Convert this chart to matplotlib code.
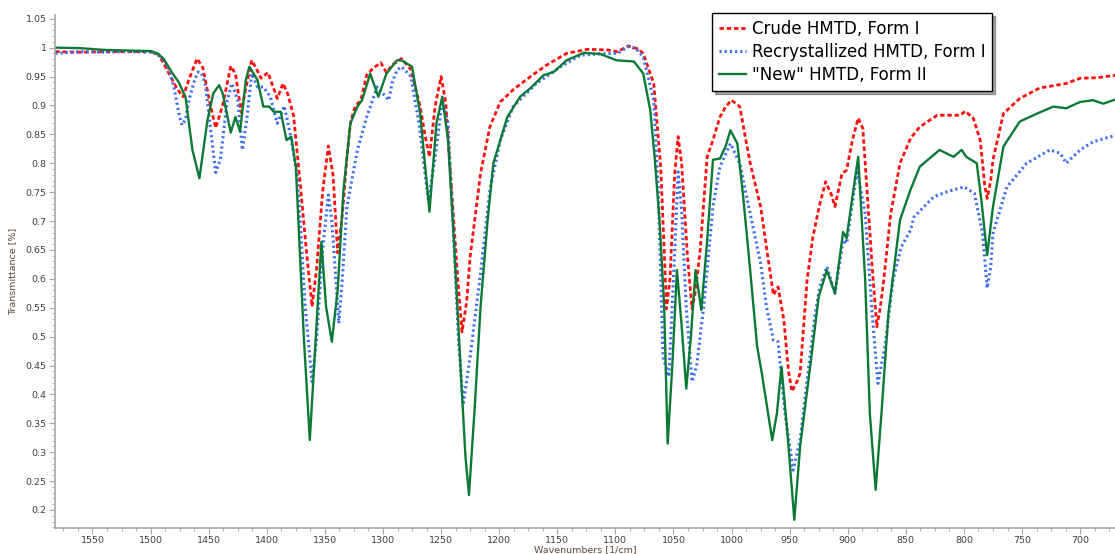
import matplotlib.pyplot as plt
from matplotlib.ticker import MultipleLocator, AutoMinorLocator

# Crude HMTD, Form I
crude_wn = [1582, 1560, 1540, 1520, 1500, 1493, 1486, 1477, 1472, 1467, 1460, 1455, 1449, 1444, 1438,
            1431, 1427, 1422, 1418, 1413, 1408, 1405, 1399, 1391, 1386, 1382, 1377, 1371, 1366, 1361,
            1357, 1352, 1347, 1343, 1339, 1335, 1331, 1328, 1324, 1319, 1314, 1308, 1302, 1297, 1292,
            1284, 1276, 1268, 1264, 1260, 1255, 1250, 1246, 1242, 1236, 1232, 1228, 1225, 1216, 1208,
            1199, 1188, 1173, 1159, 1142, 1124, 1107, 1098, 1089, 1081, 1076, 1067, 1061, 1058, 1056,
            1053, 1049, 1046, 1043, 1038, 1034, 1031, 1027, 1021, 1016, 1010, 1005, 1000, 993, 984,
            975, 970, 964, 960, 955, 951, 948, 943, 941, 935, 930, 924, 919, 914, 911, 905, 901, 896,
            891, 887, 884, 879, 875, 872, 869, 863, 855, 846, 838, 823, 803, 799, 792, 786, 782, 780,
            777, 775, 766, 752, 735, 712, 700, 685, 670]
crude_t = [0.993, 0.992, 0.993, 0.993, 0.993, 0.988, 0.962, 0.928, 0.915, 0.945, 0.981, 0.965, 0.905,
           0.861, 0.900, 0.968, 0.955, 0.888, 0.930, 0.978, 0.960, 0.947, 0.957, 0.912, 0.938, 0.920,
           0.883, 0.760, 0.650, 0.552, 0.620, 0.750, 0.830, 0.780, 0.645, 0.710, 0.811, 0.870, 0.898,
           0.909, 0.953, 0.965, 0.974, 0.957, 0.970, 0.981, 0.962, 0.898, 0.850, 0.811, 0.900, 0.950,
           0.905, 0.783, 0.610, 0.508, 0.560, 0.638, 0.783, 0.863, 0.906, 0.927, 0.950, 0.970, 0.990,
           0.997, 0.996, 0.993, 1.003, 0.998, 0.990, 0.938, 0.794, 0.650, 0.548, 0.600, 0.780, 0.846,
           0.800, 0.640, 0.548, 0.580, 0.650, 0.811, 0.840, 0.880, 0.898, 0.909, 0.898, 0.800, 0.725,
           0.655, 0.572, 0.586, 0.529, 0.440, 0.405, 0.425, 0.437, 0.598, 0.673, 0.730, 0.768, 0.745,
           0.725, 0.782, 0.788, 0.840, 0.878, 0.860, 0.771, 0.621, 0.517, 0.550, 0.598, 0.713, 0.800,
           0.843, 0.863, 0.883, 0.883, 0.890, 0.878, 0.840, 0.760, 0.739, 0.770, 0.806, 0.886, 0.912,
           0.930, 0.938, 0.947, 0.948, 0.952]

# Recrystallized HMTD, Form I
recr_wn = [1582, 1560, 1540, 1520, 1500, 1494, 1489, 1484, 1480, 1475, 1473, 1470, 1467, 1462, 1459,
           1456, 1453, 1448, 1444, 1440, 1434, 1430, 1425, 1421, 1417, 1413, 1408, 1403, 1397, 1391,
           1385, 1380, 1378, 1374, 1372, 1367, 1361, 1357, 1352, 1347, 1344, 1338, 1335, 1331, 1322,
           1314, 1305, 1295, 1292, 1288, 1284, 1276, 1269, 1261, 1255, 1249, 1244, 1239, 1235, 1231,
           1225, 1216, 1208, 1199, 1188, 1168, 1147, 1130, 1107, 1098, 1089, 1082, 1076, 1067, 1063,
           1059, 1054, 1050, 1046, 1043, 1039, 1034, 1030, 1024, 1016, 1010, 1001, 993, 984, 975, 970,
           964, 960, 954, 947, 941, 935, 928, 924, 918, 911, 904, 901, 892, 885, 879, 874, 868, 861,
           854, 846, 843, 826, 814, 800, 791, 784, 780, 777, 775, 763, 746, 726, 717, 712, 700, 689, 670]
recr_t = [0.990, 0.993, 0.992, 0.993, 0.992, 0.988, 0.978, 0.962, 0.932, 0.880, 0.866, 0.875, 0.909,
          0.945, 0.958, 0.955, 0.938, 0.852, 0.784, 0.806, 0.909, 0.938, 0.909, 0.823, 0.880, 0.955,
          0.932, 0.932, 0.915, 0.869, 0.899, 0.852, 0.829, 0.780, 0.725, 0.552, 0.422, 0.500, 0.650,
          0.745, 0.700, 0.523, 0.600, 0.725, 0.823, 0.880, 0.932, 0.909, 0.940, 0.961, 0.967, 0.950,
          0.869, 0.736, 0.811, 0.909, 0.869, 0.667, 0.494, 0.382, 0.465, 0.610, 0.754, 0.840, 0.898,
          0.938, 0.967, 0.987, 0.990, 0.990, 1.002, 0.998, 0.984, 0.909, 0.750, 0.465, 0.431, 0.600,
          0.785, 0.720, 0.550, 0.422, 0.450, 0.552, 0.725, 0.794, 0.834, 0.800, 0.713, 0.627, 0.552,
          0.494, 0.491, 0.367, 0.269, 0.321, 0.425, 0.540, 0.586, 0.621, 0.575, 0.667, 0.661, 0.788,
          0.713, 0.540, 0.419, 0.483, 0.598, 0.655, 0.684, 0.707, 0.742, 0.751, 0.759, 0.748, 0.679,
          0.584, 0.620, 0.679, 0.759, 0.800, 0.823, 0.817, 0.800, 0.823, 0.837, 0.848]

# "New" HMTD, Form II
new_wn = [1582, 1560, 1540, 1520, 1500, 1494, 1489, 1481, 1476, 1470, 1464, 1458, 1451, 1446, 1441,
          1438, 1431, 1427, 1423, 1418, 1415, 1408, 1403, 1398, 1394, 1388, 1383, 1379, 1375, 1372,
          1368, 1363, 1358, 1353, 1349, 1344, 1339, 1334, 1328, 1322, 1318, 1311, 1304, 1297, 1288,
          1284, 1275, 1268, 1260, 1254, 1249, 1244, 1239, 1233, 1229, 1226, 1221, 1216, 1210, 1205,
          1199, 1193, 1182, 1173, 1162, 1153, 1142, 1127, 1113, 1099, 1084, 1076, 1070, 1066, 1062,
          1058, 1055, 1051, 1047, 1043, 1039, 1035, 1031, 1026, 1021, 1016, 1010, 1005, 1001, 995,
          990, 984, 978, 974, 965, 961, 957, 951, 946, 941, 932, 925, 918, 911, 904, 901, 896, 891,
          885, 881, 876, 871, 865, 855, 846, 838, 821, 809, 802, 798, 789, 785, 780, 775, 766, 752,
          737, 723, 712, 700, 689, 680, 670]
new_t = [1.000, 0.999, 0.996, 0.995, 0.994, 0.990, 0.981, 0.955, 0.941, 0.915, 0.823, 0.774, 0.875,
         0.921, 0.935, 0.921, 0.853, 0.880, 0.855, 0.944, 0.967, 0.944, 0.898, 0.898, 0.889, 0.889,
         0.840, 0.846, 0.794, 0.667, 0.494, 0.321, 0.494, 0.664, 0.552, 0.491, 0.581, 0.754, 0.869,
         0.898, 0.909, 0.955, 0.915, 0.955, 0.978, 0.978, 0.967, 0.886, 0.716, 0.869, 0.915, 0.840,
         0.667, 0.437, 0.292, 0.226, 0.379, 0.552, 0.700, 0.800, 0.840, 0.880, 0.915, 0.930, 0.952,
         0.958, 0.978, 0.991, 0.989, 0.978, 0.976, 0.955, 0.892, 0.806, 0.700, 0.552, 0.315, 0.450,
         0.615, 0.520, 0.410, 0.500, 0.615, 0.546, 0.667, 0.806, 0.808, 0.830, 0.857, 0.834, 0.742,
         0.615, 0.483, 0.437, 0.321, 0.367, 0.448, 0.310, 0.183, 0.310, 0.454, 0.569, 0.615, 0.575,
         0.681, 0.670, 0.742, 0.811, 0.598, 0.367, 0.235, 0.367, 0.540, 0.702, 0.754, 0.794, 0.823,
         0.811, 0.823, 0.811, 0.800, 0.736, 0.641, 0.725, 0.829, 0.872, 0.886, 0.898, 0.895, 0.906,
         0.909, 0.903, 0.910]

labels = ["Crude HMTD, Form I", "Recrystallized HMTD, Form I", "\"New\" HMTD, Form II"]

fig = plt.figure(figsize=(11.15, 5.54), dpi=100)
ax = fig.add_axes([0.0493, 0.0475, 0.9507, 0.9254])

ax.plot(crude_wn, crude_t, color="#ff1010", linewidth=2, linestyle=(0, (1.6, 1.0)), label=labels[0])
ax.plot(recr_wn, recr_t, color="#3c6cf0", linewidth=2.2, linestyle=(0, (0.7, 1.0)), label=labels[1])
ax.plot(new_wn, new_t, color="#0c7a36", linewidth=1.7, label=labels[2])

ax.set_xlim(1582.3, 670)
ax.set_ylim(0.1694, 1.0564)

ax.xaxis.set_major_locator(MultipleLocator(50))
ax.xaxis.set_minor_locator(AutoMinorLocator(4))
ax.yaxis.set_major_locator(MultipleLocator(0.05))
ax.yaxis.set_minor_locator(AutoMinorLocator(5))
ax.yaxis.set_major_formatter(plt.FuncFormatter(lambda v, p: f"{v:.2f}".rstrip("0").rstrip(".")))

for side in ["top", "right"]:
    ax.spines[side].set_visible(False)
for side in ["left", "bottom"]:
    ax.spines[side].set_color("#a8a8a8")
    ax.spines[side].set_linewidth(1.2)

ax.tick_params(which="major", direction="out", length=4, color="#a8a8a8", labelsize=6.8,
               labelcolor="#404040", pad=2)
ax.tick_params(which="minor", direction="out", length=2, color="#a8a8a8")

ax.set_xlabel("Wavenumbers [1/cm]", fontsize=6.8, color="#5a4636", labelpad=0)
ax.set_ylabel("Transmittance [%]", fontsize=6.8, color="#5a4636", labelpad=6)

leg = ax.legend(loc="upper left", bbox_to_anchor=(0.62, 1.003), fontsize=12, frameon=True,
                fancybox=False, shadow=True, handlelength=1.6, handletextpad=0.4,
                borderpad=0.4, labelspacing=0.3, borderaxespad=0)
leg.get_frame().set_edgecolor("black")
leg.get_frame().set_linewidth(1.0)

plt.savefig("out.png", dpi=100)
